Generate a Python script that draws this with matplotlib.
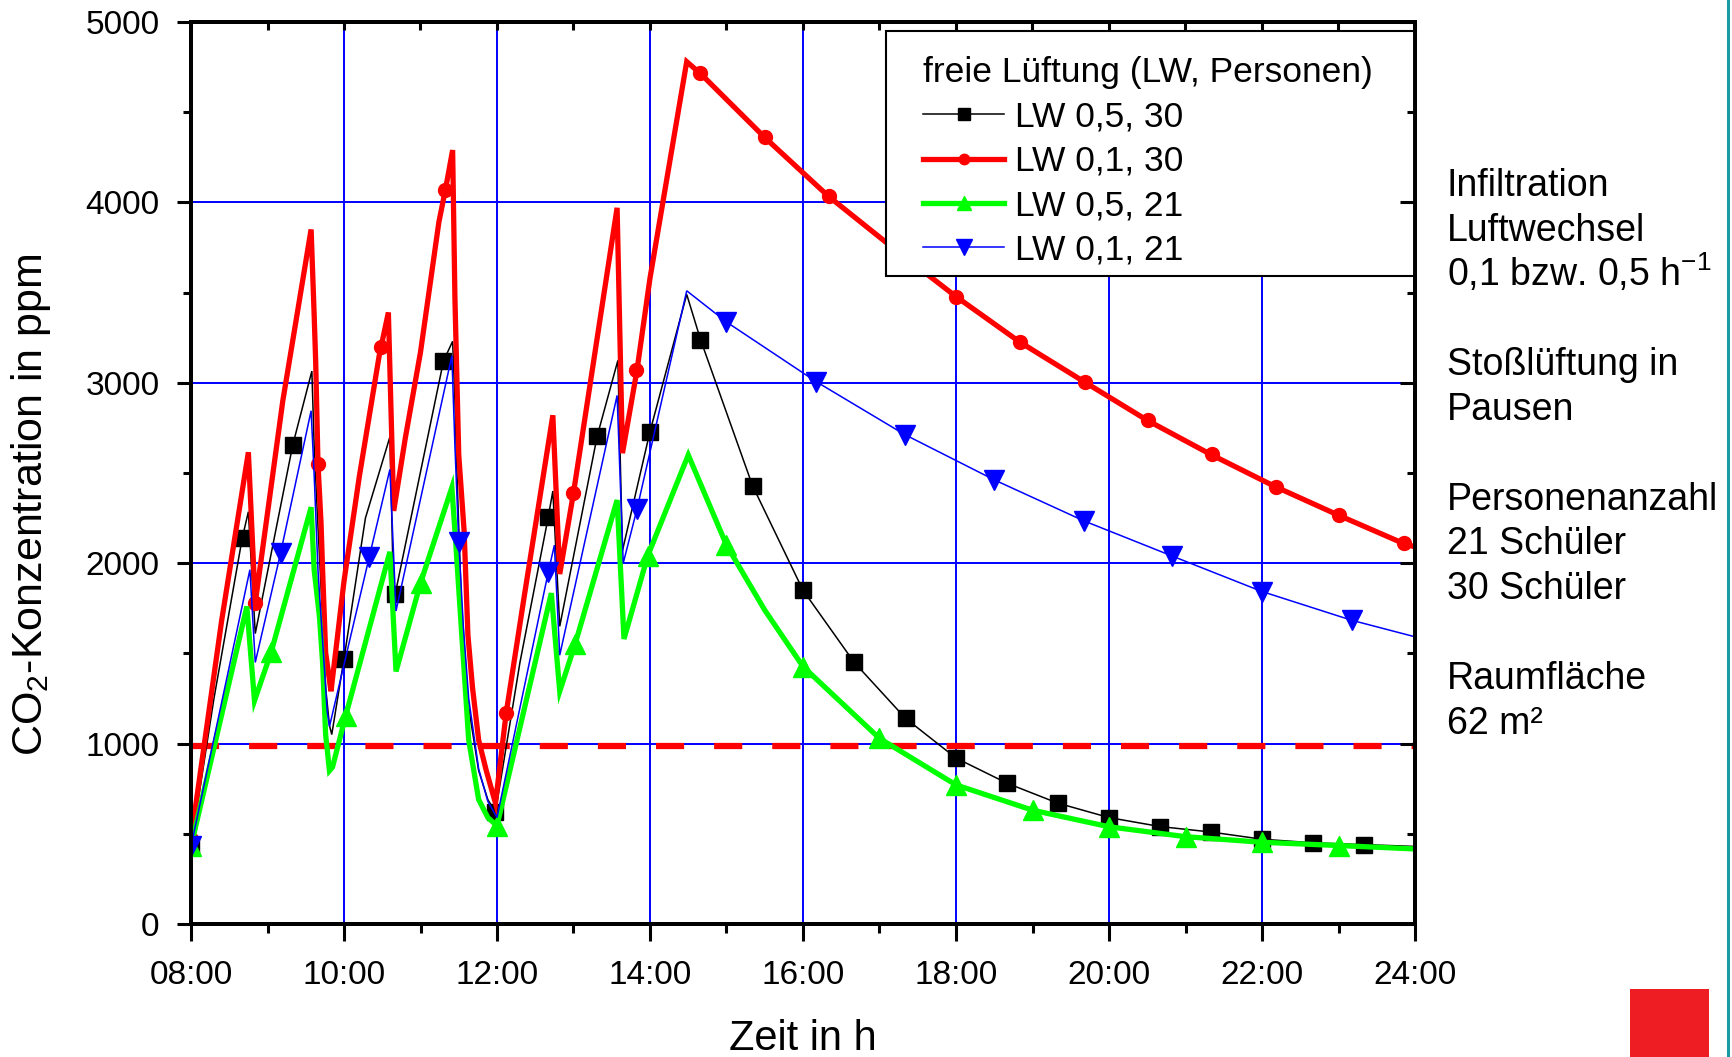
import matplotlib
matplotlib.use("Agg")
import matplotlib.pyplot as plt
from matplotlib.lines import Line2D
from matplotlib.patches import Rectangle
from matplotlib.ticker import MultipleLocator

plt.rcParams['font.family'] = ['Liberation Sans', 'DejaVu Sans']
plt.rcParams['mathtext.default'] = 'regular'

# --- data (time in h, CO2 in ppm) ---
# LW 0,5, 30 Personen
black_t = [8.0, 8.3, 8.67, 8.75, 8.84, 9.33, 9.58, 9.61, 9.66, 9.72,
           9.76, 9.81, 9.84, 10.0, 10.28, 10.6, 10.65, 11.3, 11.42, 11.45,
           11.47, 11.54, 11.63, 11.76, 11.88, 11.98, 12.3, 12.67, 12.73, 12.82,
           13.31, 13.58, 13.64, 14.0, 14.48, 14.66, 15.34, 16.0, 16.67, 17.34,
           18.0, 18.67, 19.33, 20.0, 20.67, 21.33, 22.0, 22.67, 23.33, 24.0]
black_v = [430, 1250, 2140, 2285, 1610, 2655, 3065, 2650, 2200, 1700,
           1310, 1100, 1050, 1470, 2250, 2700, 1790, 3120, 3230, 2900,
           2580, 1700, 1200, 850, 690, 620, 1450, 2256, 2400, 1650,
           2705, 3124, 2070, 2730, 3490, 3240, 2430, 1850, 1450, 1140,
           920, 780, 670, 590, 540, 510, 470, 450, 440, 430]
black_mt = [8.0, 8.67, 9.33, 10.0, 10.67, 11.3, 11.98, 12.67, 13.31, 14.0, 14.66, 15.34,
            16.0, 16.67, 17.34, 18.0, 18.67, 19.33, 20.0, 20.67, 21.33, 22.0, 22.67, 23.33]
black_mv = [430, 2140, 2655, 1470, 1830, 3120, 620, 2256, 2705, 2730, 3240, 2430,
            1850, 1450, 1140, 920, 780, 670, 590, 540, 510, 470, 450, 440]

# LW 0,1, 30 Personen
red_t = [8.0, 8.4, 8.75, 8.84, 9.2, 9.57, 9.61, 9.63, 9.66, 9.70,
         9.72, 9.76, 9.81, 9.83, 10.0, 10.2, 10.46, 10.58, 10.65, 10.8,
         11.0, 11.24, 11.33, 11.42, 11.45, 11.5, 11.57, 11.62, 11.68, 11.76,
         11.86, 11.98, 12.12, 12.35, 12.54, 12.73, 12.82, 13.0, 13.57, 13.64,
         13.83, 14.0, 14.2, 14.48, 14.67, 15.5, 16.33, 17.17, 18.0, 18.83,
         19.67, 20.5, 21.33, 22.17, 23.0, 23.83, 24.0]
red_v = [470, 1680, 2615, 1780, 2900, 3850, 3375, 3115, 2550, 2220,
         1965, 1505, 1350, 1290, 1900, 2480, 3150, 3390, 2290, 2690,
         3170, 3890, 4080, 4290, 3470, 2600, 2180, 1600, 1310, 1020,
         850, 670, 1170, 1800, 2310, 2820, 1940, 2390, 3970, 2610,
         3070, 3580, 4080, 4780, 4710, 4360, 4035, 3750, 3478, 3227,
         3007, 2792, 2603, 2425, 2266, 2113, 2090]
red_mt = [8.0, 8.84, 9.66, 10.48, 11.32, 12.12, 12.99, 13.82, 14.65, 15.5,
          16.34, 17.17, 18.0, 18.84, 19.68, 20.51, 21.34, 22.18, 23.0, 23.85]
red_mv = [470, 1780, 2550, 3200, 4070, 1170, 2390, 3070, 4715, 4360,
          4035, 3750, 3478, 3227, 3007, 2792, 2603, 2425, 2266, 2113]

# LW 0,5, 21 Personen
green_t = [8.0, 8.73, 8.83, 9.05, 9.57, 9.61, 9.68, 9.72, 9.76, 9.81,
           9.85, 10.02, 10.6, 10.68, 11.0, 11.41, 11.45, 11.54, 11.63, 11.76,
           11.88, 12.0, 12.71, 12.82, 13.02, 13.57, 13.66, 13.97, 14.5, 15.0,
           15.5, 16.0, 17.0, 18.0, 19.0, 20.0, 21.0, 22.0, 23.0, 24.0]
green_v = [430, 1760, 1238, 1510, 2310, 1963, 1700, 1450, 1050, 850,
           870, 1151, 2063, 1400, 1890, 2420, 2180, 1600, 1020, 690,
           590, 545, 1834, 1290, 1550, 2350, 1580, 2040, 2600, 2100,
           1740, 1427, 1029, 771, 631, 539, 484, 453, 435, 416]
green_mt = [8.0, 9.05, 10.02, 11.0, 12.0, 13.02, 13.97, 15.0, 16.0, 17.0,
            18.0, 19.0, 20.0, 21.0, 22.0, 23.0]
green_mv = [430, 1510, 1151, 1890, 545, 1550, 2040, 2100, 1427, 1029,
            771, 631, 539, 484, 453, 435]

# LW 0,1, 21 Personen
blue_t = [8.0, 8.77, 8.84, 9.17, 9.57, 9.61, 9.66, 9.72, 9.78, 9.81,
          10.33, 10.6, 10.68, 11.41, 11.45, 11.5, 11.56, 11.63, 11.76, 11.88,
          12.0, 12.67, 12.75, 12.82, 13.57, 13.65, 13.83, 14.48, 15.0, 16.17,
          17.33, 18.5, 19.67, 20.83, 22.0, 23.17, 24.0]
blue_v = [430, 1964, 1450, 2054, 2845, 2490, 1960, 1570, 1180, 1095,
          2034, 2520, 1735, 3150, 2650, 2120, 1650, 1250, 860, 680,
          590, 1950, 2100, 1490, 2930, 2000, 2300, 3510, 3337, 3007,
          2713, 2462, 2235, 2039, 1843, 1684, 1592]
blue_mt = [8.0, 9.17, 10.33, 11.5, 12.67, 13.83, 15.0, 16.17, 17.33, 18.5,
           19.67, 20.83, 22.0, 23.17]
blue_mv = [430, 2054, 2034, 2120, 1950, 2300, 3337, 3007, 2713, 2462,
           2235, 2039, 1843, 1684]

limit_t = [8.0, 24.0]
limit_v = [985, 985]

xtick_hours = [8, 10, 12, 14, 16, 18, 20, 22, 24]
xtick_labels = ["08:00", "10:00", "12:00", "14:00", "16:00", "18:00", "20:00", "22:00", "24:00"]
yticks = [0, 1000, 2000, 3000, 4000, 5000]

legend_title = "freie Lüftung (LW, Personen)"
series_labels = ["LW 0,5, 30", "LW 0,1, 30", "LW 0,5, 21", "LW 0,1, 21"]

info_lines = ["Infiltration", "Luftwechsel", r"0,1 bzw. 0,5 h$^{-1}$", "",
              "Stoßlüftung in", "Pausen", "",
              "Personenanzahl", "21 Schüler", "30 Schüler", "",
              "Raumfläche", "62 m²"]

# --- figure ---
W, H = 1733, 1057
fig = plt.figure(figsize=(W / 100, H / 100), dpi=100)
ax = fig.add_axes([191 / W, 1 - 924 / H, (1415 - 191) / W, (924 - 22) / H])

BLUE = (0, 0, 1)
RED = (1, 0, 0)
GREEN = (0, 1, 0)

ax.grid(True, which='major', color=BLUE, lw=1.4, zorder=0)
ax.set_axisbelow(True)

ax.plot(limit_t, limit_v, color=RED, lw=4.5, dashes=(4.5, 4.8), zorder=1.5)

styles = [
    (black_t, black_v, black_mt, black_mv, 'black', 1.1, 's', 11.5),
    (red_t, red_v, red_mt, red_mv, RED, 3.8, 'o', 10),
    (green_t, green_v, green_mt, green_mv, GREEN, 3.8, '^', 14),
    (blue_t, blue_v, blue_mt, blue_mv, BLUE, 1.1, 'v', 15),
]
handles = []
for i, (t, v, mt, mv, c, lw, m, ms) in enumerate(styles):
    z = 2 + i
    ax.plot(t, v, color=c, lw=lw, solid_joinstyle='miter', zorder=z)
    ax.plot(mt, mv, ls='none', marker=m, ms=ms, color=c, mec=c, zorder=z)
    handles.append(Line2D([], [], color=c, lw=lw, marker=m, ms=ms * 0.75, mec=c))

ax.set_xlim(8, 24)
ax.set_ylim(0, 5000)
ax.set_xticks(xtick_hours)
ax.set_xticklabels(xtick_labels)
ax.set_yticks(yticks)
ax.xaxis.set_minor_locator(MultipleLocator(1))
ax.yaxis.set_minor_locator(MultipleLocator(500))

for sp in ax.spines.values():
    sp.set_linewidth(2.6)

ax.tick_params(axis='x', which='major', direction='out', length=12, width=2.2,
               labelsize=24, pad=14, top=False)
ax.tick_params(axis='x', which='minor', direction='out', length=6.5, width=2.2, top=False)
ax.tick_params(axis='y', which='major', direction='out', length=10, width=2.2,
               labelsize=24, pad=12.5, right=False)
ax.tick_params(axis='y', which='minor', direction='out', length=6, width=2.2, right=False)

# inward ticks on the right and top edges
axr = ax.twinx()
axr.set_ylim(0, 5000)
axr.set_yticks(yticks)
axr.yaxis.set_minor_locator(MultipleLocator(500))
axr.tick_params(axis='y', which='major', direction='in', length=11, width=2.2, labelright=False)
axr.tick_params(axis='y', which='minor', direction='in', length=6, width=2.2)
axt = ax.twiny()
axt.set_xlim(8, 24)
axt.set_xticks(xtick_hours)
axt.xaxis.set_minor_locator(MultipleLocator(1))
axt.tick_params(axis='x', which='both', direction='in', length=6, width=2.2, labeltop=False)
for a in (axr, axt):
    for sp in a.spines.values():
        sp.set_linewidth(2.6)

ax.set_xlabel("Zeit in h", fontsize=30)
ax.xaxis.set_label_coords(0.5, -0.1275)
ax.xaxis.label.set_va('center')
ax.set_ylabel(r"CO$_2$-Konzentration in ppm", fontsize=31)
ax.yaxis.set_label_coords(-0.131, 0.465)
ax.yaxis.label.set_va('center')

# legend frame drawn separately so the inner padding can match the original
ax.add_patch(Rectangle((0.568, 0.7184), 0.432, 0.2716, transform=ax.transAxes,
                       facecolor='white', edgecolor='black', lw=1.5, zorder=9,
                       clip_on=False))
leg = ax.legend(handles, series_labels, title=legend_title, loc='upper left',
                bbox_to_anchor=(0.598, 0.962), frameon=False,
                fontsize=25.5, title_fontsize=25.5, borderaxespad=0, borderpad=0,
                handlelength=2.3, handletextpad=0.3, labelspacing=0.32,
                alignment='left')
leg.set_zorder(10)

# right-hand notes
for i, s in enumerate(info_lines):
    if s:
        fig.text(1447 / W, 1 - (196 + i * 44.8) / H, s, fontsize=27,
                 ha='left', va='baseline')

# slide decorations
fig.add_artist(Rectangle((1630 / W, 0), 79 / W, 68 / H, transform=fig.transFigure,
                         facecolor='#ee1c23', edgecolor='none'))
fig.add_artist(Line2D([1728.5 / W, 1728.5 / W], [0, 1], transform=fig.transFigure,
                      color='#1a9ba1', lw=2.2))

fig.savefig("out.png", dpi=100)
